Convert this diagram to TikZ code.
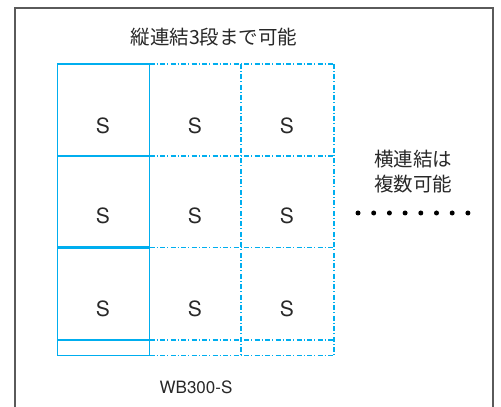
\documentclass[tikz,border=0pt]{standalone}
\usepackage{fontspec}
\setmainfont{TeX Gyre Heros}
\newfontfamily\jpfont{Noto Sans CJK JP}
\definecolor{gridcyan}{RGB}{0,174,239}
\definecolor{framegray}{RGB}{90,90,90}
\definecolor{txt}{RGB}{40,40,40}
\begin{document}
\begin{tikzpicture}[x=1pt,y=1pt,
  solidfill/.style={fill=gridcyan,draw=none},
  dashline/.style={draw=gridcyan,color=gridcyan,line width=1.3pt,dash pattern=on 5pt off 2pt on 1pt off 2.5pt},
  slabel/.style={text=txt,font=\fontsize{21}{21}\selectfont,inner sep=0pt},
  jptext/.style={text=txt,font=\jpfont\fontsize{19.5}{25}\selectfont,inner sep=0pt,align=center},
  dotstyle/.style={fill=black,circle,inner sep=0pt,minimum size=5pt}]
\useasboundingbox (0,0) rectangle (501,407);
% frame (y measured from top: Y = 407 - y)
\fill[framegray] (14,0) rectangle (16,400);
\fill[framegray] (14,398) rectangle (494,400);
\fill[framegray] (492,0) rectangle (494,400);
% dashed grid
\draw[dashline] (149.5,343) -- (334,343);
\foreach \yy in {251,159.5,67,51.5} \draw[dashline] (149.5,\yy) -- (334,\yy);
\draw[dashline] (241,343) -- (241,51.5);
\draw[dashline] (334,343) -- (334,51.5);
% solid column
\fill[solidfill] (56.7,51.5) rectangle (58.3,343);
\fill[solidfill] (148.7,51.5) rectangle (150.3,343);
\fill[solidfill] (56.7,50.7) rectangle (150.3,52.3);
\foreach \yy in {343,251,159.5,67} \fill[solidfill] (56.7,\yy-1.1) rectangle (150.3,\yy+1.1);
% labels
\node[slabel] (s11) at (103,281) {S};
\node[slabel] (s12) at (195,281) {S};
\node[slabel] (s13) at (287,281) {S};
\node[slabel] (s21) at (103,191) {S};
\node[slabel] (s22) at (195,191) {S};
\node[slabel] (s23) at (287,191) {S};
\node[slabel] (s31) at (103,98) {S};
\node[slabel] (s32) at (195,98) {S};
\node[slabel] (s33) at (287,98) {S};
\node[jptext] (title) at (214,370) {縦連結3段まで可能};
\node[jptext] (side) at (413,235.5) {横連結は\\複数可能};
\foreach \i in {0,...,7} \node[dotstyle] (d\i) at (358+15.7*\i,194) {};
\node[text=txt,font=\fontsize{17}{17}\selectfont,inner sep=0pt] (model) at (196,19.5) {WB300-S};
\end{tikzpicture}
\end{document}
